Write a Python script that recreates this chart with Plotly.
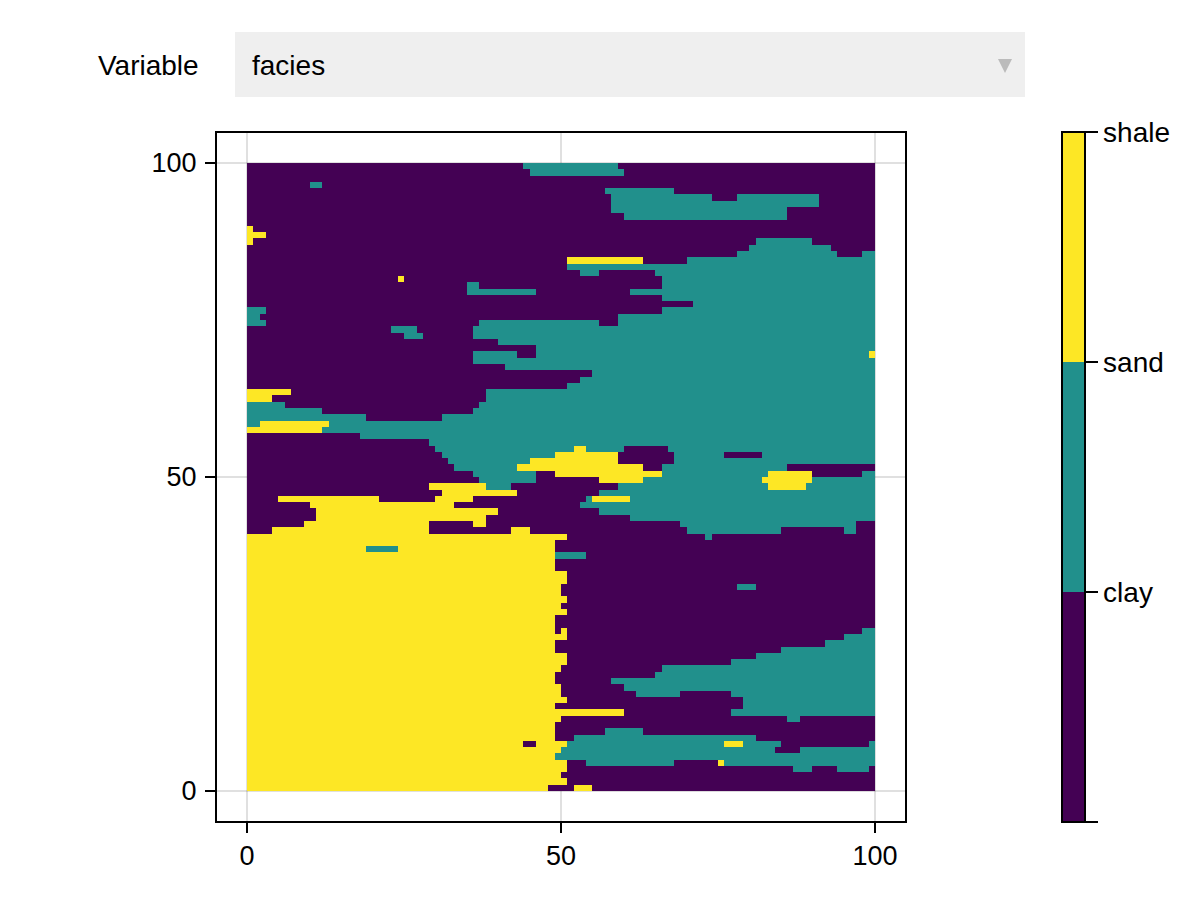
import numpy as np
import plotly.graph_objects as go

facies_names = ['clay', 'sand', 'shale']
C, S, H = 1, 2, 3
tick_vals = [0, 50, 100]

# each row of the map from the top (y=99) down: (first col, end col, facies)
# anything not listed is clay
facies_rows = [
    [(44, 59, S)],
    [(45, 60, S)],
    [],
    [(10, 12, S)],
    [(57, 68, S)],
    [(58, 74, S), (78, 91, S)],
    [(58, 91, S)],
    [(58, 86, S)],
    [(60, 86, S)],
    [],
    [(0, 1, H)],
    [(0, 3, H)],
    [(0, 1, H), (81, 90, S)],
    [(80, 93, S)],
    [(78, 94, S), (98, 100, S)],
    [(51, 63, H), (70, 100, S)],
    [(51, 100, S)],
    [(53, 56, S), (65, 100, S)],
    [(24, 25, H), (66, 100, S)],
    [(35, 37, S), (66, 100, S)],
    [(35, 46, S), (61, 100, S)],
    [(66, 100, S)],
    [(71, 100, S)],
    [(0, 3, S), (66, 100, S)],
    [(0, 2, S), (59, 100, S)],
    [(0, 3, S), (37, 56, S), (59, 100, S)],
    [(23, 27, S), (36, 100, S)],
    [(25, 28, S), (36, 100, S)],
    [(40, 100, S)],
    [(46, 100, S)],
    [(36, 43, S), (46, 99, S), (99, 100, H)],
    [(36, 100, S)],
    [(41, 100, S)],
    [(55, 100, S)],
    [(53, 100, S)],
    [(51, 100, S)],
    [(0, 7, H), (38, 100, S)],
    [(0, 4, H), (38, 100, S)],
    [(0, 6, S), (37, 100, S)],
    [(0, 12, S), (36, 100, S)],
    [(0, 19, S), (31, 100, S)],
    [(0, 2, S), (2, 13, H), (13, 100, S)],
    [(0, 12, H), (12, 100, S)],
    [(18, 100, S)],
    [(29, 100, S)],
    [(30, 52, S), (52, 54, H), (54, 60, S), (67, 100, S)],
    [(31, 49, S), (49, 59, H), (68, 76, S), (82, 100, S)],
    [(32, 45, S), (45, 59, H), (68, 100, S)],
    [(33, 43, S), (43, 63, H), (66, 86, S)],
    [(36, 46, S), (49, 66, H), (66, 83, S), (83, 90, H), (98, 100, S)],
    [(37, 46, S), (56, 63, H), (63, 82, S), (82, 90, H), (90, 100, S)],
    [(29, 38, H), (38, 42, S), (59, 83, S), (83, 89, H), (89, 100, S)],
    [(31, 43, H), (56, 100, S)],
    [(5, 21, H), (30, 36, H), (54, 55, S), (55, 61, H), (61, 100, S)],
    [(10, 33, H), (53, 100, S)],
    [(11, 40, H), (56, 100, S)],
    [(11, 38, H), (61, 100, S)],
    [(9, 29, H), (36, 38, H), (69, 97, S)],
    [(4, 29, H), (42, 45, H), (70, 85, S), (95, 97, S)],
    [(0, 51, H), (73, 74, S)],
    [(0, 49, H)],
    [(0, 19, H), (19, 24, S), (24, 49, H)],
    [(0, 49, H), (49, 54, S)],
    [(0, 49, H)],
    [(0, 49, H)],
    [(0, 51, H)],
    [(0, 51, H)],
    [(0, 50, H), (78, 81, S)],
    [(0, 50, H)],
    [(0, 51, H)],
    [(0, 50, H)],
    [(0, 51, H)],
    [(0, 49, H)],
    [(0, 49, H)],
    [(0, 49, H), (50, 51, H), (98, 100, S)],
    [(0, 51, H), (95, 100, S)],
    [(0, 49, H), (92, 100, S)],
    [(0, 49, H), (85, 100, S)],
    [(0, 51, H), (81, 100, S)],
    [(0, 51, H), (77, 100, S)],
    [(0, 50, H), (66, 100, S)],
    [(0, 49, H), (65, 100, S)],
    [(0, 49, H), (58, 100, S)],
    [(0, 50, H), (60, 100, S)],
    [(0, 50, H), (62, 69, S), (77, 100, S)],
    [(0, 51, H), (79, 100, S)],
    [(0, 49, H), (79, 100, S)],
    [(0, 60, H), (77, 100, S)],
    [(0, 50, H), (86, 88, S)],
    [(0, 49, H)],
    [(0, 49, H), (57, 63, S)],
    [(0, 49, H), (52, 81, S)],
    [(0, 44, H), (46, 51, H), (51, 76, S), (76, 79, H), (79, 85, S), (99, 100, S)],
    [(0, 50, H), (50, 84, S), (88, 100, S)],
    [(0, 49, H), (49, 100, S)],
    [(0, 51, H), (54, 68, S), (75, 76, H), (76, 100, S)],
    [(0, 51, H), (87, 90, S), (94, 99, S)],
    [(0, 50, H)],
    [(0, 51, H)],
    [(0, 48, H), (52, 55, H)],
]

z = np.full((100, 100), C)
for i, row in enumerate(facies_rows):
    for start, end, code in row:
        z[99 - i, start:end] = code

colors = ['#440154', '#21908C', '#FDE725']
scale = [[0, colors[0]], [1/3, colors[0]], [1/3, colors[1]], [2/3, colors[1]], [2/3, colors[2]], [1, colors[2]]]

font = dict(family='Liberation Sans', size=27, color='black')
menu_font = dict(family='Liberation Sans', size=28, color='black')

def px(x):
    return (x - 217) / 688

def py(y):
    return (821 - y) / 688

fig = go.Figure(go.Heatmap(
    z=z,
    x=np.arange(100) + 0.5,
    y=np.arange(100) + 0.5,
    colorscale=scale,
    zmin=0.5,
    zmax=3.5,
    colorbar=dict(
        thickness=23, thicknessmode='pixels', len=690 / 688, lenmode='fraction',
        x=px(1062.5), xanchor='left', xpad=0,
        y=py(132), yanchor='top', ypad=0,
        tickmode='array', tickvals=[0.5, 1.5, 2.5, 3.5], ticktext=[''] + facies_names,
        ticks='outside', ticklen=12, tickwidth=1.5, tickcolor='black',
        outlinecolor='black', outlinewidth=2,
        tickfont=menu_font),
    hovertemplate='x=%{x}<br>y=%{y}<br>%{z}<extra></extra>'))

axis = dict(
    tickmode='array', tickvals=tick_vals, ticks='outside', ticklen=10, tickwidth=1.5,
    tickcolor='black', showline=True, linecolor='black', linewidth=2, mirror=True,
    showgrid=True, gridcolor='rgba(0,0,0,0.12)', gridwidth=1.5, zeroline=False,
    tickfont=font)

# the page adds an 8px body margin, so the figure is 16px smaller than the window
fig.update_layout(
    width=1184, height=884,
    margin=dict(l=209, r=287, t=125, b=71, autoexpand=False),
    paper_bgcolor='white', plot_bgcolor='white',
    xaxis=dict(axis, range=[-4.78, 104.78]),
    yaxis=dict(axis, range=[-4.78, 104.78], ticklabelstandoff=3),
    shapes=[
        dict(type='rect', xref='paper', yref='paper', x0=px(235), x1=px(1025), y0=py(97), y1=py(32),
             fillcolor='#EFEFEF', line_width=0, layer='below'),
        dict(type='path', xref='paper', yref='paper', fillcolor='#BBBBBB', line_width=0,
             path=f'M {px(998)} {py(59)} L {px(1012)} {py(59)} L {px(1005)} {py(73)} Z'),
    ],
    annotations=[
        dict(text='Variable', xref='paper', yref='paper', x=px(201), y=py(65), xanchor='right',
             yanchor='middle', showarrow=False, font=menu_font),
        dict(text='facies', xref='paper', yref='paper', x=px(250), y=py(65), xanchor='left',
             yanchor='middle', showarrow=False, font=menu_font),
    ])

fig.write_html("out.html")
